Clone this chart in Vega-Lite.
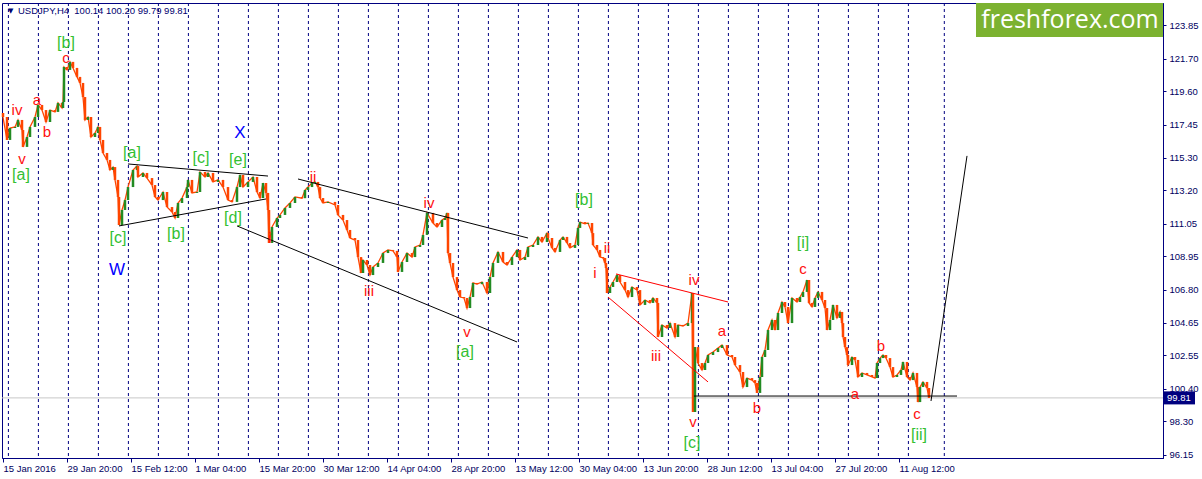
{
  "$schema": "https://vega.github.io/schema/vega-lite/v6.json",
  "width": 1161,
  "height": 455,
  "autosize": {"type": "none"},
  "padding": {"left": 2, "top": 3, "right": 39, "bottom": 21},
  "background": "white",
  "config": {"view": {"stroke": "#000080", "strokeWidth": 1}, "axis": {"labelOverlap": false, "labelFlush": false}},
  "resolve": {"scale": {"color": "independent"}},
  "datasets": {
    "grid": [{"g":6.4},{"g":36.4},{"g":66.4},{"g":96.4},{"g":126.4},{"g":156.4},{"g":186.4},{"g":216.4},{"g":246.4},{"g":276.4},{"g":306.4},{"g":336.4},{"g":366.4},{"g":396.4},{"g":426.4},{"g":456.4},{"g":486.4},{"g":516.4},{"g":546.4},{"g":576.4},{"g":606.4},{"g":636.4},{"g":666.4},{"g":696.4},{"g":726.4},{"g":756.4},{"g":786.4},{"g":816.4},{"g":846.4},{"g":876.4},{"g":906.4},{"g":942.3}],
    "bars": [
      {"b":1,"o":118.2,"c":117.94},{"b":5,"o":117.94,"c":116.46},{"b":8,"o":116.46,"c":117.23},{"b":13,"o":117.23,"c":117.3},{"b":16,"o":117.3,"c":117.75},{"b":20,"o":117.75,"c":117.1},{"b":21,"o":117.1,"c":116.01},{"b":25,"o":116.01,"c":116.65},{"b":28,"o":116.65,"c":117.3},{"b":33,"o":117.3,"c":117.94},
      {"b":36,"o":117.94,"c":118.72},{"b":40,"o":118.72,"c":118.39},{"b":44,"o":118.39,"c":117.62},{"b":48,"o":117.62,"c":118.39},{"b":53,"o":118.39,"c":118.27},{"b":56,"o":118.27,"c":118.85},{"b":60,"o":118.85,"c":118.52},{"b":61,"o":118.52,"c":118.91},{"b":62,"o":118.91,"c":121.17},{"b":65,"o":121.17,"c":120.98},
      {"b":68,"o":120.98,"c":121.5},{"b":71,"o":121.5,"c":121.11},{"b":75,"o":121.11,"c":120.53},{"b":78,"o":120.53,"c":120.14},{"b":81,"o":120.14,"c":119.23},{"b":83,"o":119.23,"c":117.75},{"b":86,"o":117.75,"c":117.94},{"b":89,"o":117.94,"c":116.65},{"b":93,"o":116.65,"c":116.91},{"b":96,"o":116.91,"c":117.3},
      {"b":98,"o":117.3,"c":116.46},{"b":101,"o":116.46,"c":115.62},{"b":105,"o":115.62,"c":115.17},{"b":108,"o":115.17,"c":114.52},{"b":111,"o":114.52,"c":114.71},{"b":113,"o":114.71,"c":113.88},{"b":116,"o":113.88,"c":112.78},{"b":117,"o":112.78,"c":110.97},{"b":120,"o":110.97,"c":111.94},{"b":123,"o":111.94,"c":112.58},
      {"b":126,"o":112.58,"c":113.42},{"b":131,"o":113.42,"c":114.52},{"b":135,"o":114.52,"c":114.78},{"b":136,"o":114.78,"c":114.07},{"b":141,"o":114.07,"c":114.33},{"b":145,"o":114.33,"c":114.0},{"b":150,"o":114.0,"c":113.55},{"b":153,"o":113.55,"c":112.78},{"b":156,"o":112.78,"c":112.58},{"b":161,"o":112.58,"c":113.1},
      {"b":165,"o":113.1,"c":112.13},{"b":170,"o":112.13,"c":111.81},{"b":173,"o":111.81,"c":111.42},{"b":176,"o":111.42,"c":112.39},{"b":180,"o":112.39,"c":112.71},{"b":185,"o":112.71,"c":113.42},{"b":186,"o":113.42,"c":113.88},{"b":190,"o":113.88,"c":113.04},{"b":195,"o":113.04,"c":113.1},{"b":198,"o":113.1,"c":114.39},
      {"b":203,"o":114.39,"c":114.07},{"b":206,"o":114.07,"c":114.33},{"b":211,"o":114.33,"c":113.75},{"b":216,"o":113.75,"c":113.88},{"b":221,"o":113.88,"c":113.42},{"b":226,"o":113.42,"c":112.58},{"b":230,"o":112.58,"c":112.46},{"b":235,"o":112.46,"c":113.42},{"b":238,"o":113.42,"c":114.2},{"b":241,"o":114.2,"c":113.42},
      {"b":246,"o":113.42,"c":113.75},{"b":251,"o":113.75,"c":114.07},{"b":255,"o":114.07,"c":113.1},{"b":258,"o":113.1,"c":112.71},{"b":261,"o":112.71,"c":113.68},{"b":264,"o":113.68,"c":113.04},{"b":266,"o":113.04,"c":111.94},{"b":267,"o":111.94,"c":109.81},{"b":270,"o":109.81,"c":110.84},{"b":275,"o":110.84,"c":111.42},
      {"b":278,"o":111.42,"c":111.62},{"b":283,"o":111.62,"c":112.07},{"b":288,"o":112.07,"c":112.39},{"b":293,"o":112.39,"c":112.78},{"b":300,"o":112.78,"c":112.7},{"b":303,"o":112.7,"c":113.23},{"b":306,"o":113.23,"c":113.42},{"b":310,"o":113.42,"c":113.68},{"b":313,"o":113.68,"c":113.75},{"b":316,"o":113.75,"c":113.42},
      {"b":318,"o":113.42,"c":112.71},{"b":321,"o":112.71,"c":112.39},{"b":326,"o":112.39,"c":112.46},{"b":333,"o":112.46,"c":112.26},{"b":336,"o":112.26,"c":111.62},{"b":341,"o":111.62,"c":111.29},{"b":345,"o":111.29,"c":110.65},{"b":348,"o":110.65,"c":110.13},{"b":353,"o":110.13,"c":110.0},{"b":356,"o":110.0,"c":108.9},
      {"b":359,"o":108.9,"c":107.87},{"b":361,"o":107.87,"c":108.71},{"b":365,"o":108.71,"c":108.39},{"b":368,"o":108.39,"c":107.74},{"b":371,"o":107.74,"c":108.26},{"b":376,"o":108.26,"c":108.52},{"b":381,"o":108.52,"c":109.16},{"b":386,"o":109.16,"c":109.36},{"b":391,"o":109.36,"c":109.3},{"b":395,"o":109.3,"c":108.9},
      {"b":396,"o":108.9,"c":107.94},{"b":400,"o":107.94,"c":108.58},{"b":405,"o":108.58,"c":109.16},{"b":410,"o":109.16,"c":108.9},{"b":413,"o":108.9,"c":109.55},{"b":418,"o":109.55,"c":109.68},{"b":421,"o":109.68,"c":110.33},{"b":425,"o":110.33,"c":111.75},{"b":431,"o":111.75,"c":111.1},{"b":435,"o":111.1,"c":110.84},
      {"b":440,"o":110.84,"c":111.29},{"b":443,"o":111.29,"c":111.42},{"b":445,"o":111.42,"c":111.75},{"b":446,"o":111.75,"c":109.16},{"b":448,"o":109.16,"c":108.52},{"b":451,"o":108.52,"c":107.61},{"b":455,"o":107.61,"c":106.77},{"b":458,"o":106.77,"c":106.32},{"b":462,"o":106.32,"c":106.26},{"b":465,"o":106.26,"c":105.61},
      {"b":468,"o":105.61,"c":106.32},{"b":471,"o":106.32,"c":107.23},{"b":475,"o":107.23,"c":107.15},{"b":480,"o":107.15,"c":107.29},{"b":485,"o":107.29,"c":106.58},{"b":488,"o":106.58,"c":107.61},{"b":491,"o":107.61,"c":108.52},{"b":496,"o":108.52,"c":109.23},{"b":501,"o":109.23,"c":108.58},{"b":505,"o":108.58,"c":108.39},
      {"b":510,"o":108.39,"c":108.9},{"b":515,"o":108.9,"c":109.36},{"b":518,"o":109.36,"c":108.71},{"b":523,"o":108.71,"c":108.9},{"b":526,"o":108.9,"c":109.55},{"b":531,"o":109.55,"c":109.68},{"b":536,"o":109.68,"c":110.2},{"b":540,"o":110.2,"c":109.87},{"b":545,"o":109.87,"c":110.45},{"b":546,"o":110.45,"c":110.13},
      {"b":550,"o":110.13,"c":109.49},{"b":553,"o":109.49,"c":109.23},{"b":558,"o":109.23,"c":110.0},{"b":561,"o":110.0,"c":110.2},{"b":565,"o":110.2,"c":109.81},{"b":568,"o":109.81,"c":109.49},{"b":573,"o":109.49,"c":109.68},{"b":576,"o":109.68,"c":110.78},{"b":578,"o":110.78,"c":111.16},{"b":583,"o":111.16,"c":111.05},
      {"b":586,"o":111.05,"c":111.1},{"b":590,"o":111.1,"c":110.45},{"b":591,"o":110.45,"c":109.68},{"b":595,"o":109.68,"c":109.36},{"b":598,"o":109.36,"c":108.9},{"b":601,"o":108.9,"c":108.84},{"b":603,"o":108.84,"c":108.52},{"b":604,"o":108.52,"c":108.19},{"b":605,"o":108.19,"c":106.58},{"b":608,"o":106.58,"c":106.97},
      {"b":611,"o":106.97,"c":107.29},{"b":615,"o":107.29,"c":107.74},{"b":618,"o":107.74,"c":107.29},{"b":623,"o":107.29,"c":106.77},{"b":626,"o":106.77,"c":106.32},{"b":630,"o":106.32,"c":106.97},{"b":635,"o":106.97,"c":106.77},{"b":638,"o":106.77,"c":105.81},{"b":643,"o":105.81,"c":106.13},{"b":648,"o":106.13,"c":105.94},
      {"b":651,"o":105.94,"c":106.26},{"b":655,"o":106.26,"c":105.94},{"b":656,"o":105.94,"c":103.74},{"b":660,"o":103.74,"c":104.52},{"b":665,"o":104.52,"c":104.32},{"b":668,"o":104.32,"c":104.64},{"b":673,"o":104.64,"c":103.74},{"b":676,"o":103.74,"c":104.52},{"b":681,"o":104.52,"c":104.45},{"b":686,"o":104.45,"c":104.64},
      {"b":690,"o":104.64,"c":106.58},{"b":691,"o":106.58,"c":98.9},{"b":693,"o":98.9,"c":103.09},{"b":696,"o":103.09,"c":102.06},{"b":700,"o":102.06,"c":101.61},{"b":703,"o":101.61,"c":102.06},{"b":706,"o":102.06,"c":102.58},{"b":711,"o":102.58,"c":102.77},{"b":716,"o":102.77,"c":103.03},{"b":720,"o":103.03,"c":103.22},
      {"b":725,"o":103.22,"c":102.58},{"b":730,"o":102.58,"c":102.45},{"b":733,"o":102.45,"c":101.93},{"b":738,"o":101.93,"c":101.48},{"b":741,"o":101.48,"c":100.51},{"b":745,"o":100.51,"c":101.09},{"b":750,"o":101.09,"c":100.96},{"b":753,"o":100.96,"c":100.77},{"b":755,"o":100.77,"c":100.13},{"b":758,"o":100.13,"c":101.16},
      {"b":760,"o":101.16,"c":102.45},{"b":763,"o":102.45,"c":102.9},{"b":766,"o":102.9,"c":104.19},{"b":770,"o":104.19,"c":104.84},{"b":773,"o":104.84,"c":104.19},{"b":776,"o":104.19,"c":105.29},{"b":780,"o":105.29,"c":106.0},{"b":783,"o":106.0,"c":105.68},{"b":786,"o":105.68,"c":104.64},{"b":790,"o":104.64,"c":106.26},
      {"b":795,"o":106.26,"c":106.0},{"b":798,"o":106.0,"c":106.32},{"b":801,"o":106.32,"c":106.65},{"b":805,"o":106.65,"c":107.42},{"b":807,"o":107.42,"c":105.94},{"b":810,"o":105.94,"c":105.68},{"b":813,"o":105.68,"c":106.26},{"b":816,"o":106.26,"c":106.65},{"b":820,"o":106.65,"c":106.13},{"b":823,"o":106.13,"c":105.61},
      {"b":825,"o":105.61,"c":104.19},{"b":828,"o":104.19,"c":104.84},{"b":831,"o":104.84,"c":105.81},{"b":835,"o":105.81,"c":104.97},{"b":838,"o":104.97,"c":105.36},{"b":840,"o":105.36,"c":104.64},{"b":841,"o":104.64,"c":103.74},{"b":843,"o":103.74,"c":103.09},{"b":845,"o":103.09,"c":102.58},{"b":846,"o":102.58,"c":101.93},
      {"b":850,"o":101.93,"c":102.45},{"b":853,"o":102.45,"c":102.26},{"b":856,"o":102.26,"c":101.16},{"b":860,"o":101.16,"c":101.42},{"b":865,"o":101.42,"c":101.29},{"b":870,"o":101.29,"c":101.16},{"b":873,"o":101.16,"c":101.09},{"b":875,"o":101.09,"c":102.06},{"b":878,"o":102.06,"c":102.38},{"b":881,"o":102.38,"c":102.58},
      {"b":884,"o":102.58,"c":102.38},{"b":888,"o":102.38,"c":101.8},{"b":891,"o":101.8,"c":101.16},{"b":895,"o":101.16,"c":101.29},{"b":899,"o":101.29,"c":101.61},{"b":901,"o":101.61,"c":102.13},{"b":905,"o":102.13,"c":101.16},{"b":908,"o":101.16,"c":100.96},{"b":911,"o":100.96,"c":101.42},{"b":915,"o":101.42,"c":100.51},
      {"b":916,"o":100.51,"c":99.54},{"b":918,"o":99.54,"c":100.51},{"b":921,"o":100.51,"c":100.84},{"b":925,"o":100.84,"c":100.45},{"b":927,"o":100.45,"c":99.81}
    ],
    "lines": [
      {"b":126,"p":114.91,"b2":266,"p2":114.13,"kind":"channel"},
      {"b":117,"p":110.91,"b2":264,"p2":112.65,"kind":"channel"},
      {"b":296,"p":113.94,"b2":526,"p2":110.13,"kind":"channel"},
      {"b":235,"p":110.91,"b2":515,"p2":103.42,"kind":"channel"},
      {"b":614,"p":107.81,"b2":726,"p2":106.0,"kind":"diagonal"},
      {"b":606,"p":106.32,"b2":706,"p2":100.84,"kind":"diagonal"},
      {"b":692,"p":99.93,"b2":955,"p2":99.93,"kind":"channel"},
      {"b":929,"p":99.61,"b2":965,"p2":115.43,"kind":"channel"}
    ],
    "labels": [
      {"b":15,"p":118.39,"t":"iv","g":"minuette"},
      {"b":35,"p":119.04,"t":"a","g":"minuette"},
      {"b":45,"p":116.97,"t":"b","g":"minuette"},
      {"b":20,"p":115.23,"t":"v","g":"minuette"},
      {"b":19,"p":114.2,"t":"[a]","g":"minute"},
      {"b":64,"p":122.72,"t":"[b]","g":"minute"},
      {"b":64,"p":121.75,"t":"c","g":"minuette"},
      {"b":130,"p":115.61,"t":"[a]","g":"minute"},
      {"b":199,"p":115.3,"t":"[c]","g":"minute"},
      {"b":238,"p":116.9,"t":"X","g":"minor"},
      {"b":236,"p":115.17,"t":"[e]","g":"minute"},
      {"b":116,"p":110.13,"t":"[c]","g":"minute"},
      {"b":115,"p":108.07,"t":"W","g":"minor"},
      {"b":174,"p":110.39,"t":"[b]","g":"minute"},
      {"b":231,"p":111.42,"t":"[d]","g":"minute"},
      {"b":311,"p":114.07,"t":"ii","g":"minuette"},
      {"b":268,"p":110.13,"t":"i","g":"minuette"},
      {"b":367,"p":106.71,"t":"iii","g":"minuette"},
      {"b":427,"p":112.39,"t":"iv","g":"minuette"},
      {"b":465,"p":104.06,"t":"v","g":"minuette"},
      {"b":463,"p":102.77,"t":"[a]","g":"minute"},
      {"b":582,"p":112.58,"t":"[b]","g":"minute"},
      {"b":605,"p":109.49,"t":"ii","g":"minuette"},
      {"b":593,"p":107.87,"t":"i","g":"minuette"},
      {"b":654,"p":102.51,"t":"iii","g":"minuette"},
      {"b":692,"p":107.42,"t":"iv","g":"minuette"},
      {"b":720,"p":104.13,"t":"a","g":"minuette"},
      {"b":691,"p":98.25,"t":"v","g":"minuette"},
      {"b":690,"p":96.9,"t":"[c]","g":"minute"},
      {"b":755,"p":99.16,"t":"b","g":"minuette"},
      {"b":801,"p":109.81,"t":"[i]","g":"minute"},
      {"b":801,"p":108.13,"t":"c","g":"minuette"},
      {"b":879,"p":103.16,"t":"b","g":"minuette"},
      {"b":853,"p":100.06,"t":"a","g":"minuette"},
      {"b":915,"p":98.77,"t":"c","g":"minuette"},
      {"b":917,"p":97.41,"t":"[ii]","g":"minute"}
    ]
  },
  "layer": [
    {
      "data": {"name": "grid"},
      "mark": {"type": "rule", "color": "#000080", "strokeWidth": 1, "strokeDash": [3, 3]},
      "encoding": {
        "x": {"field": "g", "type": "quantitative",
          "scale": {"domain": [0, 1161], "nice": false, "zero": false},
          "axis": {"title": null, "grid": false, "tickCount": 40,
            "values": [1, 65, 129, 193, 257, 321, 385, 449, 513, 577, 641, 705, 769, 833, 897],
            "labelExpr": "['15 Jan 2016','29 Jan 20:00','15 Feb 12:00','1 Mar 04:00','15 Mar 20:00','30 Mar 12:00','14 Apr 04:00','28 Apr 20:00','13 May 12:00','30 May 04:00','13 Jun 20:00','28 Jun 12:00','13 Jul 04:00','27 Jul 20:00','11 Aug 12:00'][round((datum.value-1)/64)]",
            "labelAlign": "left", "labelDx": 1, "labelBaseline": "top",
            "labelFont": "Liberation Sans", "labelFontSize": 9.5, "labelColor": "#000060",
            "labelFlush": false, "labelOverlap": false, "labelBound": false,
            "tickColor": "#000080", "tickSize": 4, "labelPadding": 1,
            "domainColor": "#000080"}}
      }
    },
    {
      "data": {"values": [{"p": 99.81}]},
      "mark": {"type": "rule", "color": "#c8c8c8", "strokeWidth": 1},
      "encoding": {
        "y": {"field": "p", "type": "quantitative",
          "scale": {"domain": [95.93, 125.3], "nice": false, "zero": false},
          "axis": {"title": null, "orient": "right", "grid": false, "tickCount": 40,
            "values": [96.15, 98.3, 100.4, 102.55, 104.65, 106.8, 108.95, 111.05, 113.2, 115.3, 117.45, 119.6, 121.7, 123.85],
            "format": ".2f", "labelFont": "Liberation Sans", "labelFontSize": 9.5, "labelColor": "#000060",
            "labelFlush": false, "labelOverlap": false, "labelBound": false,
            "tickColor": "#000080", "tickSize": 3, "labelPadding": 3, "domainColor": "#000080"}}
      }
    },
    {
      "data": {"name": "bars"},
      "mark": {"type": "line", "color": "#ff4500", "strokeWidth": 1.3},
      "encoding": {
        "x": {"field": "b", "type": "quantitative", "scale": {"domain": [0, 1161], "nice": false, "zero": false}},
        "y": {"field": "c", "type": "quantitative", "scale": {"domain": [95.93, 125.3], "nice": false, "zero": false}}
      }
    },
    {
      "data": {"name": "bars"},
      "mark": {"type": "rule", "strokeWidth": 2.5},
      "encoding": {
        "x": {"field": "b", "type": "quantitative", "scale": {"domain": [0, 1161], "nice": false, "zero": false}},
        "y": {"field": "o", "type": "quantitative", "scale": {"domain": [95.93, 125.3], "nice": false, "zero": false}},
        "y2": {"field": "c"},
        "color": {"condition": {"test": "datum.c >= datum.o", "value": "#228b22"}, "value": "#ff4500"}
      }
    },
    {
      "data": {"name": "lines"},
      "mark": {"type": "rule", "strokeWidth": 1},
      "encoding": {
        "x": {"field": "b", "type": "quantitative", "scale": {"domain": [0, 1161], "nice": false, "zero": false}},
        "x2": {"field": "b2"},
        "y": {"field": "p", "type": "quantitative", "scale": {"domain": [95.93, 125.3], "nice": false, "zero": false}},
        "y2": {"field": "p2"},
        "color": {"field": "kind", "type": "nominal", "scale": {"domain": ["channel", "diagonal"], "range": ["#000000", "#ff0000"]}, "legend": null}
      }
    },
    {
      "data": {"name": "labels"},
      "mark": {"type": "text", "font": "Liberation Sans", "align": "center", "baseline": "middle"},
      "encoding": {
        "x": {"field": "b", "type": "quantitative", "scale": {"domain": [0, 1161], "nice": false, "zero": false}},
        "y": {"field": "p", "type": "quantitative", "scale": {"domain": [95.93, 125.3], "nice": false, "zero": false}},
        "text": {"field": "t"},
        "color": {"field": "g", "type": "nominal", "scale": {"domain": ["minuette", "minute", "minor"], "range": ["#ff1010", "#33bf33", "#0000ff"]}, "legend": null},
        "size": {"field": "g", "type": "nominal", "scale": {"domain": ["minuette", "minute", "minor"], "range": [15, 17, 21]}, "legend": null}
      }
    },
    {
      "data": {"values": [{"b": 974, "b2": 1161, "p": 125.3, "p2": 123.11}]},
      "mark": {"type": "rect", "color": "#7cb230"},
      "encoding": {
        "x": {"field": "b", "type": "quantitative", "scale": {"domain": [0, 1161], "nice": false, "zero": false}},
        "x2": {"field": "b2"},
        "y": {"field": "p", "type": "quantitative", "scale": {"domain": [95.93, 125.3], "nice": false, "zero": false}},
        "y2": {"field": "p2"}
      }
    },
    {
      "data": {"values": [{"b": 1068, "p": 124.22, "t": "freshforex.com"}]},
      "mark": {"type": "text", "font": "Open Sans", "fontSize": 25, "color": "#ffffff", "align": "center", "baseline": "middle"},
      "encoding": {
        "x": {"field": "b", "type": "quantitative", "scale": {"domain": [0, 1161], "nice": false, "zero": false}},
        "y": {"field": "p", "type": "quantitative", "scale": {"domain": [95.93, 125.3], "nice": false, "zero": false}},
        "text": {"field": "t"}
      }
    },
    {
      "data": {"values": [{"b": 1161, "b2": 1193, "p": 100.23, "p2": 99.39}]},
      "mark": {"type": "rect", "color": "#00007f"},
      "encoding": {
        "x": {"field": "b", "type": "quantitative", "scale": {"domain": [0, 1161], "nice": false, "zero": false}},
        "x2": {"field": "b2"},
        "y": {"field": "p", "type": "quantitative", "scale": {"domain": [95.93, 125.3], "nice": false, "zero": false}},
        "y2": {"field": "p2"}
      }
    },
    {
      "data": {"values": [{"b": 1165, "p": 99.81, "t": "99.81"}]},
      "mark": {"type": "text", "font": "Liberation Sans", "fontSize": 9.5, "color": "#ffffff", "align": "left", "baseline": "middle"},
      "encoding": {
        "x": {"field": "b", "type": "quantitative", "scale": {"domain": [0, 1161], "nice": false, "zero": false}},
        "y": {"field": "p", "type": "quantitative", "scale": {"domain": [95.93, 125.3], "nice": false, "zero": false}},
        "text": {"field": "t"}
      }
    },
    {
      "data": {"values": [{"b": 6, "p": 124.81, "t": "▼"}]},
      "mark": {"type": "text", "font": "DejaVu Sans", "fontSize": 7, "align": "left", "baseline": "middle", "color": "#000070"},
      "encoding": {
        "x": {"field": "b", "type": "quantitative", "scale": {"domain": [0, 1161], "nice": false, "zero": false}},
        "y": {"field": "p", "type": "quantitative", "scale": {"domain": [95.93, 125.3], "nice": false, "zero": false}},
        "text": {"field": "t"}
      }
    },
    {
      "data": {"values": [{"b": 16, "p": 124.81, "t": "USDJPY,H4\u00a0\u00a0100.14 100.20 99.79 99.81"}]},
      "mark": {"type": "text", "font": "Liberation Sans", "fontSize": 9.5, "align": "left", "baseline": "middle", "color": "#000070"},
      "encoding": {
        "x": {"field": "b", "type": "quantitative", "scale": {"domain": [0, 1161], "nice": false, "zero": false}},
        "y": {"field": "p", "type": "quantitative", "scale": {"domain": [95.93, 125.3], "nice": false, "zero": false}},
        "text": {"field": "t"}
      }
    }
  ]
}
